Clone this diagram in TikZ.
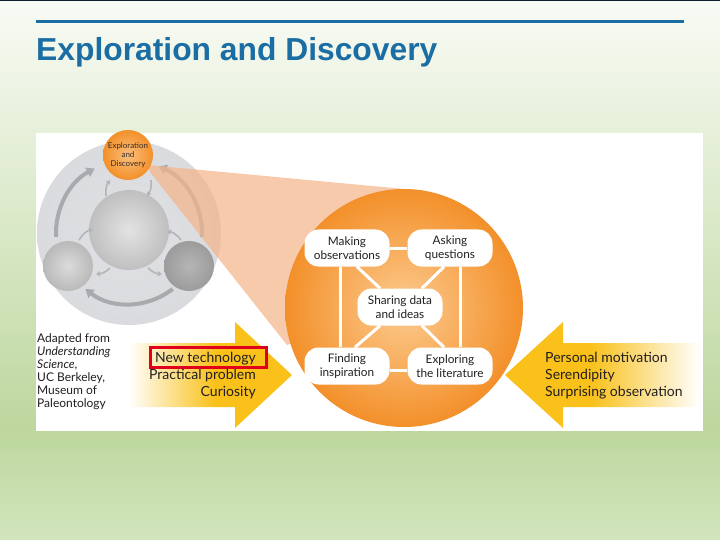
\documentclass[tikz,border=0pt]{standalone}
\usepackage{fontspec}
\setmainfont{Lato}
\newfontfamily\titlefont{Liberation Sans}
\usetikzlibrary{calc,arrows.meta}
\pgfdeclarelayer{front}
\pgfsetlayers{main,front}
\definecolor{titleblue}{HTML}{1B6EA3}
\definecolor{bgtop}{HTML}{F9FBF5}
\definecolor{bgmid}{HTML}{BDD79E}
\definecolor{bgbot}{HTML}{D2E5BD}
\definecolor{topline}{HTML}{0B1F2E}
\definecolor{orangeout}{HTML}{F3902A}
\definecolor{orangein}{HTML}{FCCB90}
\definecolor{wedgecol}{HTML}{F5B48A}
\definecolor{ringgray}{HTML}{DADBDE}
\definecolor{arrowgray}{HTML}{A8AAAD}
\definecolor{smallgray}{HTML}{B3B5B8}
\definecolor{ayellow}{HTML}{F9C11A}
\definecolor{redbox}{HTML}{E0001B}
\definecolor{txt}{HTML}{231F20}
\pgfdeclarehorizontalshading{fadeleft}{100bp}{color(0bp)=(white); color(26bp)=(white); color(52bp)=(ayellow); color(100bp)=(ayellow)}
\pgfdeclarehorizontalshading{faderight}{100bp}{color(0bp)=(ayellow); color(47bp)=(ayellow); color(75bp)=(white); color(100bp)=(white)}
\tikzset{
  stagebox/.style={fill=white, rounded corners=14pt, minimum width=85pt, minimum height=37pt,
    align=center, inner sep=1pt, text=txt, font=\fontsize{11.8}{13.8}\selectfont},
  linkline/.style={white, line width=3pt},
  ringarrow/.style={arrowgray, line width=4pt, -{Triangle[length=8pt,width=10pt]}},
  smallarrow/.style={smallgray, line width=1.6pt, -{Triangle[length=4pt,width=5pt]}},
  listtext/.style={text=txt, font=\fontsize{14}{17}\selectfont, inner sep=0pt}
}
\begin{document}
\begin{tikzpicture}[x=1pt,y=-1pt]
\useasboundingbox (0,0) rectangle (720,540);
% background
\fill[top color=bgtop, bottom color=bgmid] (0,0) rectangle (720,430);
\fill[top color=bgmid, bottom color=bgbot] (0,430) rectangle (720,540);
\fill[topline] (0,0) rectangle (720,1.5);
\draw[titleblue, line width=3pt] (36,22) -- (684,22);
\node[anchor=base west, inner sep=0pt, text=titleblue, font=\titlefont\bfseries\fontsize{31.8}{36}\selectfont] (title) at (36,61) {Exploration and Discovery};
% panel
\fill[white] (36,133) rectangle (703,431);
% small overview diagram
\coordinate (oc) at (129,233);
\shade[inner color=ringgray!85, outer color=ringgray] (oc) circle (92);
\draw[ringarrow] ($(oc)+(177:73)$) arc[start angle=177, end angle=242, radius=73];
\draw[ringarrow] ($(oc)+(3:73)$) arc[start angle=3, end angle=-66, radius=73];
\draw[ringarrow] ($(oc)+(52:71)$) arc[start angle=52, end angle=128, radius=71];
\node[circle, minimum size=80pt, inner sep=0pt, inner color=gray!22, outer color=gray!50] (cs) at (129,230) {};
\node[circle, minimum size=50pt, inner sep=0pt, inner color=gray!28, outer color=gray!55] (ls) at (68,266) {};
\node[circle, minimum size=50pt, inner sep=0pt, inner color=gray!58, outer color=gray!78] (rs) at (189,266) {};
% small arrows
\draw[smallarrow] (106,196) to[bend left=20] (110,180);
\draw[smallarrow] (151,180) to[bend left=20] (147,196);
\draw[smallarrow] (79,240) to[bend left=20] (93,229);
\draw[smallarrow] (110,268) to[bend left=20] (96,274);
\draw[smallarrow] (181,240) to[bend right=20] (167,231);
\draw[smallarrow] (148,268) to[bend right=20] (162,274);
% wedge
\fill[wedgecol, opacity=0.7] (148,165) -- (404,189) -- (404,308) -- (287,345) -- (150,172) -- cycle;
% small orange circle
\node[circle, minimum size=50pt, inner sep=0pt, inner color=orangein!80!orangeout, outer color=orangeout, align=center, text=txt!85!brown, font=\fontsize{8}{9}\selectfont] (ed) at (128,155) {Exploration\\and\\Discovery};
% big circle
\node[circle, minimum size=238pt, inner sep=0pt, inner color=orangein, outer color=orangeout] (bc) at (404,308) {};
% stage boxes
\begin{pgfonlayer}{front}
\node[stagebox] (mo) at (347,248) {Making\\observations};
\node[stagebox] (aq) at (450,248) {Asking\\questions};
\node[stagebox] (sd) at (400,307) {Sharing data\\and ideas};
\node[stagebox] (fi) at (347,366) {Finding\\inspiration};
\node[stagebox] (el) at (450,366) {Exploring\\the literature};
\end{pgfonlayer}
% connectors
\draw[linkline] (mo.east) -- (aq.west);
\draw[linkline] ([yshift=-4pt]fi.east) -- ([yshift=-4pt]el.west);
\draw[linkline] ([xshift=-7pt]mo.south) -- ([xshift=-7pt]fi.north);
\draw[linkline] ([xshift=10pt]aq.south) -- ([xshift=10pt]el.north);
\draw[linkline] ([xshift=10pt]mo.south) -- ([xshift=-20pt]sd.north);
\draw[linkline] ([xshift=-6pt]aq.south) -- ([xshift=22pt]sd.north);
\draw[linkline] ([xshift=-20pt]sd.south) -- ([xshift=8pt]fi.north);
\draw[linkline] ([xshift=22pt]sd.south) -- ([xshift=-6pt]el.north);
% yellow arrows
\shade[shading=fadeleft] (125,343) -- (235,343) -- (235,322) -- (292,375) -- (235,428) -- (235,407) -- (125,407) -- cycle;
\shade[shading=faderight] (700,343) -- (563,343) -- (563,322) -- (505,375) -- (563,428) -- (563,407) -- (700,407) -- cycle;
% texts
\node[listtext, anchor=base east] (nt) at (256,362.5) {New technology};
\node[listtext, anchor=base east] (pp) at (256,379.5) {Practical problem};
\node[listtext, anchor=base east] (cu) at (256,396.5) {Curiosity};
\draw[redbox, line width=3pt] ([xshift=-4pt,yshift=4pt]nt.north west) rectangle ([xshift=10pt,yshift=-2pt]nt.south east);
\node[listtext, anchor=base west] (pm) at (545,362.5) {Personal motivation};
\node[listtext, anchor=base west] (se) at (545,379.5) {Serendipity};
\node[listtext, anchor=base west] (so) at (545,396.5) {Surprising observation};
\node[anchor=north west, align=left, inner sep=0pt, text=txt, font=\fontsize{12}{13}\selectfont] (cr) at (37,333) {Adapted from\\\textit{Understanding}\\\textit{Science},\\UC Berkeley,\\Museum of\\Paleontology};
\end{tikzpicture}
\end{document}
